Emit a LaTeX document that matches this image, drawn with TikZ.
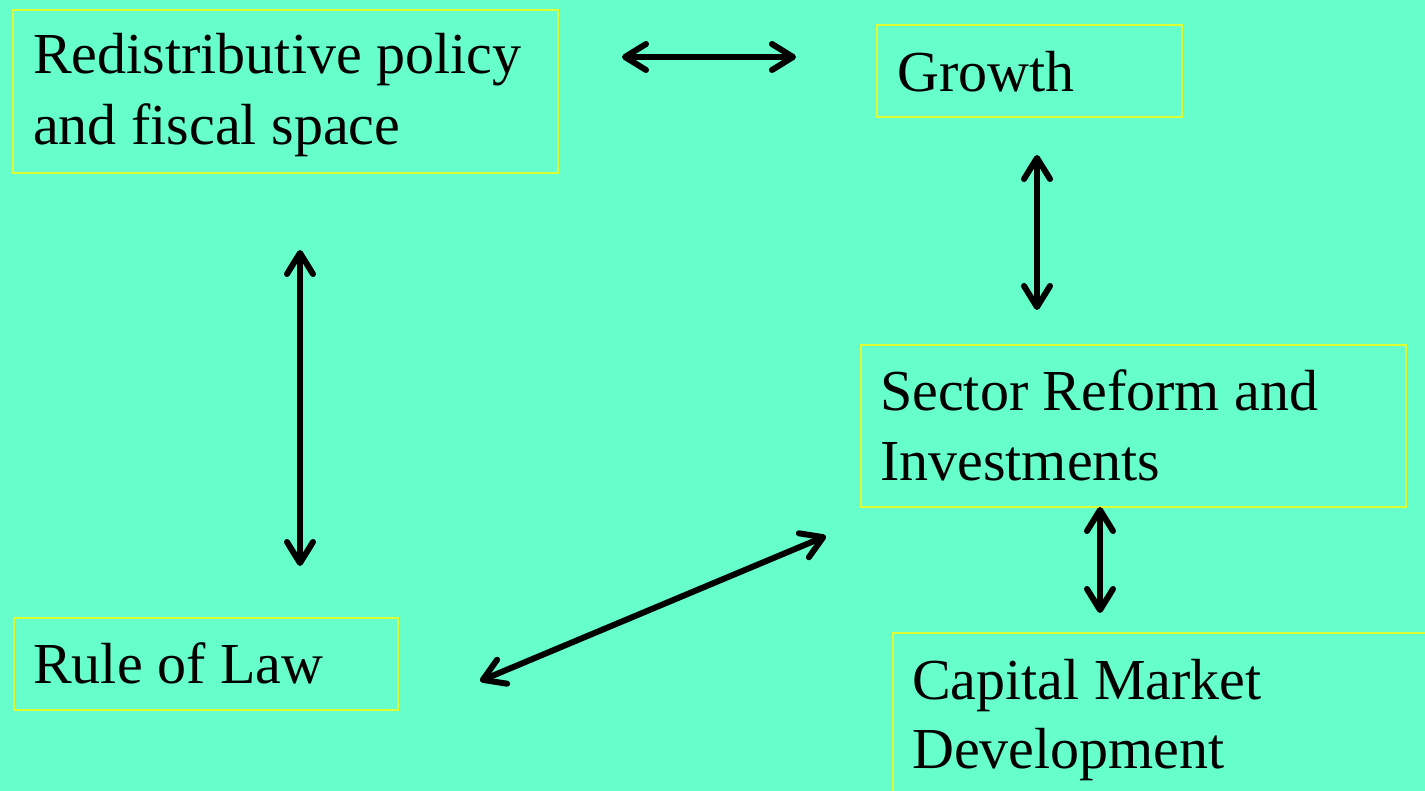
\documentclass[tikz,border=0pt]{standalone}
\usepackage{fontspec}
\setmainfont{Liberation Serif}
\usetikzlibrary{arrows.meta}
\definecolor{bgmint}{HTML}{66FFCC}
\definecolor{boxrim}{HTML}{DDFF33}
\begin{document}
\begin{tikzpicture}[x=1pt,y=-1pt,
  box/.style={draw=boxrim, line width=2pt, rectangle, inner sep=0pt, anchor=north west},
  lbl/.style={anchor=base west, inner sep=0pt, align=left,
    font=\fontsize{58}{70}\selectfont},
  barbtip/.tip={Straight Barb[length=21pt, width=26pt, line width=6pt, round]},
  link/.style={line width=6pt, line cap=round, barbtip-barbtip}]
  % canvas
  \fill[bgmint] (0,0) rectangle (1425,791);
  \useasboundingbox (0,0) rectangle (1425,791);

  % boxes
  \node[box, minimum width=545pt, minimum height=163pt] (redist) at (12,9) {};
  \node[box, minimum width=305pt, minimum height=92pt] (growth) at (876,24) {};
  \node[box, minimum width=545pt, minimum height=162pt] (sector) at (860,344) {};
  \node[box, minimum width=384pt, minimum height=92pt] (law) at (13,617) {};
  \node[box, minimum width=560pt, minimum height=200pt] (capital) at (892,632) {};

  % labels
  \node[lbl] (redistA) at (33,74) {Redistributive policy};
  \node[lbl] (redistB) at (33,145) {and fiscal space};
  \node[lbl] (growthA) at (897,92) {Growth};
  \node[lbl] (sectorA) at (880,411) {Sector Reform and};
  \node[lbl] (sectorB) at (880,480) {Investments};
  \node[lbl] (lawA) at (33,683) {Rule of Law};
  \node[lbl] (capitalA) at (912,699) {Capital Market};
  \node[lbl] (capitalB) at (912,768) {Development};

  % arrow ends
  \coordinate (h1) at (622,57);
  \coordinate (h2) at (796,57);
  \coordinate (v1) at (300,250);
  \coordinate (v2) at (300,566);
  \coordinate (g1) at (1037,155);
  \coordinate (g2) at (1037,310);
  \coordinate (s1) at (1100,507);
  \coordinate (s2) at (1100,613);
  \coordinate (d1) at (480,681);
  \coordinate (d2) at (826,536);

  % links
  \draw[link] (h1) -- (h2);
  \draw[link] (v1) -- (v2);
  \draw[link] (g1) -- (g2);
  \draw[link] (s1) -- (s2);
  \draw[link] (d1) -- (d2);
\end{tikzpicture}
\end{document}
